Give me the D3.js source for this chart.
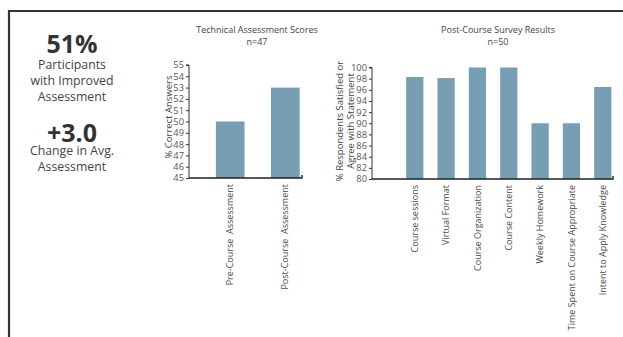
<!DOCTYPE html>
<html>
<head>
<meta charset="utf-8">
<script src="https://cdn.jsdelivr.net/npm/d3@7"></script>
<style>
  html, body { margin: 0; padding: 0; background: #fff; }
  svg { display: block; font-family: "Open Sans", sans-serif; }
</style>
</head>
<body>
<svg id="chart" width="623" height="337"></svg>
<script>
// Headline figures
const kpiValues = ["51%", "+3.0"];
const kpiLabels = [["Participants", "with Improved", "Assessment"], ["Change in Avg.", "Assessment"]];

// Technical assessment scores (n=47)
const assessCategories = ["Pre-Course  Assessment", "Post-Course  Assessment"];
const assessScores = [50, 53];
const assessTicks = [45, 46, 47, 48, 49, 50, 51, 52, 53, 54, 55];

// Post-course survey (n=50)
const surveyCategories = ["Course sessions", "Virtual Format", "Course Organization", "Course Content",
  "Weekly Homework", "Time Spent on Course Appropriate", "Intent to Apply Knowledge"];
const surveyValues = [98.3, 98.1, 100, 100, 90, 90, 96.5];
const surveyTicks = [80, 82, 84, 86, 88, 90, 92, 94, 96, 98, 100];

const barColor = "#789eb3";
const svg = d3.select("#chart");

// frame lines along top and left
svg.append("path")
  .attr("d", "M9,337V11H623")
  .attr("fill", "none").attr("stroke", "#333").attr("stroke-width", 2.2);

// headline figures
const kpi = svg.append("g").attr("text-anchor", "middle");
const kpiLayout = [{ y: 53, lines: [68.5, 84.5, 100.5] }, { y: 141.5, lines: [154.5, 170.5] }];
kpiValues.forEach((v, i) => {
  kpi.append("text").attr("x", 72).attr("y", kpiLayout[i].y)
    .attr("font-size", 25).attr("font-weight", 700).attr("fill", "#333").text(v);
  kpiLabels[i].forEach((t, j) => {
    kpi.append("text").attr("x", 72).attr("y", kpiLayout[i].lines[j])
      .attr("font-size", 12.3).attr("fill", "#444").text(t);
  });
});

function barChart(cfg) {
  const g = svg.append("g");
  const x = d3.scaleBand().domain(cfg.categories).range([cfg.x0, cfg.x1])
    .paddingInner(cfg.padIn).paddingOuter(cfg.padOut).align(cfg.align);
  const y = d3.scaleLinear().domain(cfg.domain).range([cfg.y0, cfg.y1]);

  g.selectAll("rect").data(cfg.values).join("rect")
    .attr("x", (d, i) => x(cfg.categories[i]))
    .attr("width", x.bandwidth())
    .attr("y", d => y(d))
    .attr("height", d => y(cfg.domain[0]) - y(d))
    .attr("fill", barColor);

  const ya = g.append("g").attr("transform", `translate(${cfg.x0},0)`)
    .call(d3.axisLeft(y).tickValues(cfg.ticks).tickSize(3).tickPadding(2));
  ya.selectAll("text").attr("font-size", 9.3).attr("font-family", "Open Sans").attr("fill", "#555");
  ya.selectAll("line").attr("stroke", "#333");
  ya.select(".domain").attr("stroke", "#333").attr("d", `M-3,${cfg.y1}H0V${cfg.y0}`);

  const xa = g.append("g").attr("transform", `translate(0,${cfg.y0})`)
    .call(d3.axisBottom(x).tickSize(0).tickPadding(5));
  xa.select(".domain").attr("stroke", "#222").attr("stroke-width", 1.4)
    .attr("d", `M${cfg.x0},0H${cfg.x1}V-3`);
  xa.selectAll(".tick text")
    .attr("font-size", 9).attr("font-family", "Open Sans").attr("fill", "#4a4a4a")
    .style("white-space", "pre")
    .attr("transform", "rotate(-90)")
    .attr("text-anchor", "end").attr("dy", "0.35em").attr("x", -6).attr("y", 0);

  // titles
  const t = g.append("g").attr("text-anchor", "middle").attr("fill", "#444").attr("font-size", 9);
  cfg.title.forEach((s, i) => t.append("text").attr("x", cfg.titleX).attr("y", 33 + i * 11.5).text(s));

  const yl = g.append("g").attr("text-anchor", "middle").attr("fill", "#444").attr("font-size", 9.5);
  cfg.yLabel.forEach((s, i) => yl.append("text")
    .attr("transform", `translate(${cfg.yLabelX + i * 10.5},${cfg.yLabelY}) rotate(-90)`).text(s));
}

barChart({
  categories: assessCategories, values: assessScores, ticks: assessTicks,
  domain: [45, 55], x0: 189, x1: 302, y0: 178, y1: 65,
  padIn: 0.48, padOut: 0.265, align: 0.92,
  title: ["Technical Assessment Scores", "n=47"], titleX: 257,
  yLabel: ["% Correct Answers"], yLabelX: 171.5, yLabelY: 117
});

barChart({
  categories: surveyCategories, values: surveyValues, ticks: surveyTicks,
  domain: [80, 100], x0: 372, x1: 613, y0: 179, y1: 67.5,
  padIn: 0.45, padOut: 0.571, align: 0.955,
  title: ["Post-Course Survey Results", "n=50"], titleX: 498,
  yLabel: ["% Respondents Satisfied or", "Agree with Statement"], yLabelX: 343, yLabelY: 121
});
</script>
</body>
</html>
